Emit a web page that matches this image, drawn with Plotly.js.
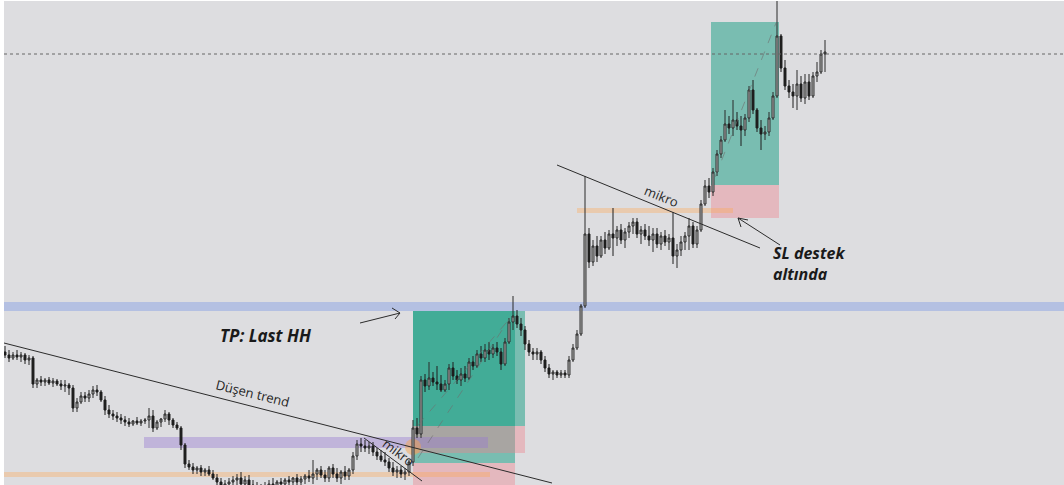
<!DOCTYPE html>
<html>
<head>
<meta charset="utf-8">
<script src="https://cdn.plot.ly/plotly-3.0.1.min.js"></script>
<style>html,body{margin:0;padding:0;background:#fff;}#chart{width:1064px;height:485px;}</style>
</head>
<body>
<div id="chart"></div>
<script>
// Candle OHLC values (price units)
const open = [148,145,142,145,143,145,140,142,116,120,118,120,117,119,116,114,115,112,92,98,
104,102,106,110,108,100,90,86,84,82,80,78,76,79,77,79,80,84,72,78,
81,86,80,75,72,55,36,33,30,32,28,30,26,22,18,14,16,18,20,22,
16,20,15,12,10,12,14,16,14,18,16,20,18,22,18,21,24,22,26,30,
25,22,32,26,22,28,24,30,44,56,54,52,54,48,44,40,38,32,28,30,
26,28,38,72,66,120,114,122,118,116,110,116,132,124,120,126,122,138,134,146,
142,150,146,152,148,136,158,178,184,176,170,156,148,146,148,140,132,126,128,125,
127,125,140,152,166,194,266,238,254,244,260,252,266,262,270,260,268,274,278,266,
270,264,260,266,256,264,258,262,244,250,258,264,274,256,270,296,314,308,328,346,
360,376,372,380,374,370,382,410,390,372,366,368,382,404,464,432,414,408,404,416,
402,418,404,424,428,446];
const high = [154,150,148,150,148,147,145,144,122,124,122,123,122,121,120,120,117,115,102,108,
108,110,114,115,110,104,95,90,88,86,84,82,80,83,81,82,92,90,80,82,
90,88,82,78,74,57,40,37,34,35,32,34,30,26,22,20,22,24,26,28,
24,25,20,18,16,18,20,22,20,22,22,24,23,26,24,26,30,40,32,34,
30,34,36,32,30,34,32,48,60,62,60,58,58,52,50,48,42,38,34,34,
32,40,80,82,124,126,138,128,134,125,120,136,138,130,132,134,142,144,150,154,
156,158,156,158,152,162,182,204,190,182,174,160,152,152,150,144,136,130,130,130,
130,144,156,170,196,324,272,260,264,264,268,270,292,274,276,272,278,282,282,274,
276,274,272,272,268,270,266,288,256,264,268,282,278,274,300,320,322,332,350,364,
390,384,400,388,384,386,414,420,392,380,374,388,408,500,466,440,420,416,430,424,
426,426,428,438,450,460];
const low = [142,138,140,140,138,136,135,112,112,114,114,115,113,114,110,108,105,88,88,96,
98,98,102,104,98,85,82,80,78,76,74,73,74,75,74,76,72,68,70,73,
78,75,72,70,50,32,30,26,26,24,24,24,20,14,10,8,10,12,14,12,
10,12,8,6,4,6,8,10,8,12,10,14,12,14,12,16,18,16,20,22,
18,18,22,18,16,20,20,26,40,48,48,46,44,40,38,34,28,24,22,22,
20,24,34,62,62,108,110,114,110,108,108,110,120,116,114,118,120,130,132,138,
138,140,142,144,130,134,156,170,172,164,150,144,140,140,136,128,122,120,122,122,
122,122,138,150,164,192,232,234,238,242,246,250,244,254,256,252,262,266,262,256,
260,254,248,252,250,254,250,236,232,244,250,250,252,252,268,294,302,304,324,342,
358,366,364,370,354,364,378,386,368,350,360,364,380,402,428,410,402,392,390,398,
396,400,402,418,426,428];
const close = [145,142,145,143,145,140,142,116,120,118,120,117,119,116,114,115,112,92,98,104,
102,106,110,108,100,90,86,84,82,80,78,76,79,77,79,80,84,72,78,81,
86,80,75,72,55,36,33,30,32,28,30,26,22,18,14,16,18,20,22,16,
20,15,12,10,12,14,16,14,18,16,20,18,22,18,21,24,22,26,30,25,
22,32,26,22,28,24,30,44,56,54,52,54,48,44,40,38,32,28,30,26,
28,38,72,66,120,114,122,118,116,110,116,132,124,120,126,122,138,134,146,142,
150,146,152,148,136,158,178,184,176,170,156,148,146,148,140,132,126,128,125,127,
125,140,152,166,194,266,238,254,244,260,252,266,262,270,260,268,274,278,266,270,
264,260,266,256,264,258,262,244,250,258,264,274,256,270,296,314,308,328,346,360,
376,372,380,374,370,382,410,390,372,366,368,382,404,464,432,414,408,404,416,402,
418,404,424,428,446,448];
const bars = open.map((_, k) => k);

// Drawing-tool levels (price units)
const tpLevel = 189, lastHHTop = 198;
const dottedLevel = 446;

const trace = {
  type: 'candlestick', x: bars, open: open, high: high, low: low, close: close,
  increasing: {line: {color: '#2a2a2a', width: 1}, fillcolor: '#c4c4c4'},
  decreasing: {line: {color: '#1e1e1e', width: 1}, fillcolor: '#1e1e1e'},
  whiskerwidth: 0, hoverinfo: 'skip', showlegend: false
};

const green = 'rgba(0,150,120,0.45)';
const pink = 'rgba(240,130,140,0.4)';
const nol = {width: 0};
const shapes = [
  {type:'rect', xref:'paper', x0:0, x1:1, yref:'y', y0:tpLevel, y1:lastHHTop, fillcolor:'rgba(120,150,230,0.4)', line:nol, layer:'below'},
  {type:'rect', x0:102, x1:127.5, y0:37, y1:tpLevel, fillcolor:green, line:nol, layer:'below'},
  {type:'rect', x0:102, x1:127.5, y0:0, y1:37, fillcolor:pink, line:nol, layer:'below'},
  {type:'rect', x0:102, x1:130, y0:74, y1:tpLevel, fillcolor:green, line:nol, layer:'below'},
  {type:'rect', x0:102, x1:130, y0:47, y1:74, fillcolor:pink, line:nol, layer:'below'},
  {type:'rect', x0:176.5, x1:193.5, y0:315, y1:478, fillcolor:green, line:nol, layer:'below'},
  {type:'rect', x0:176.5, x1:193.5, y0:282, y1:315, fillcolor:pink, line:nol, layer:'below'},
  {type:'rect', x0:34.75, x1:120.75, y0:52, y1:63, fillcolor:'rgba(150,120,210,0.4)', line:nol, layer:'below'},
  {type:'rect', x0:-1, x1:121.25, y0:23, y1:28, fillcolor:'rgba(255,165,80,0.35)', line:nol, layer:'below'},
  {type:'rect', x0:143, x1:182, y0:287, y1:292, fillcolor:'rgba(255,165,80,0.35)', line:nol, layer:'below'},
  {type:'circle', x0:100, x1:104, y0:45, y1:61, fillcolor:'rgba(245,165,80,0.5)', line:nol, layer:'below'},
  {type:'line', xref:'paper', x0:0, x1:1, y0:dottedLevel, y1:dottedLevel, line:{color:'#666', width:1, dash:'dot'}},
  {type:'line', x0:103.25, y0:75, x1:126.75, y1:184, line:{color:'rgba(110,110,110,0.6)', width:1, dash:'dash'}},
  {type:'line', x0:103.25, y0:42, x1:126.25, y1:182, line:{color:'rgba(110,110,110,0.6)', width:1, dash:'dash'}},
  {type:'line', x0:177.5, y0:323, x1:192.75, y1:477, line:{color:'rgba(110,110,110,0.6)', width:1, dash:'dash'}},
  {type:'line', x0:-0.25, y0:157, x1:136.75, y1:17, line:{color:'#2b2b2b', width:1}},
  {type:'line', x0:89.75, y0:62, x1:104.25, y1:19, line:{color:'#2b2b2b', width:1}},
  {type:'line', x0:138, y0:335, x1:188.75, y1:252, line:{color:'#2b2b2b', width:1}},
  {type:'line', x0:88.75, y0:177, x1:98.75, y1:187, line:{color:'#2b2b2b', width:1}},
  {type:'line', x0:96.75, y0:192, x1:98.75, y1:187, line:{color:'#2b2b2b', width:1}},
  {type:'line', x0:97.5, y0:181, x1:98.75, y1:187, line:{color:'#2b2b2b', width:1}},
  {type:'line', x0:193.75, y0:255, x1:183.25, y1:282, line:{color:'#2b2b2b', width:1}},
  {type:'line', x0:184, y0:273, x1:183.25, y1:282, line:{color:'#2b2b2b', width:1}},
  {type:'line', x0:185.75, y0:280, x1:183.25, y1:282, line:{color:'#2b2b2b', width:1}}
];

const fam = '"Open Sans", "Noto Sans", sans-serif';
const annotations = [
  {x:65, y:165, text:'<b><i>TP: Last HH</i></b>', showarrow:false, font:{family:fam, size:17, color:'#1a1a1a'}},
  {x:61.75, y:107, text:'Düşen trend', textangle:14, showarrow:false, font:{family:fam, size:13, color:'#262626'}},
  {x:164, y:304, text:'mikro', textangle:22, showarrow:false, font:{family:fam, size:13, color:'#262626'}},
  {x:98.25, y:48, text:'mikro', textangle:37, showarrow:false, font:{family:fam, size:13, color:'#262626'}},
  {x:191.5, y:237, xanchor:'left', align:'left', text:'<b><i>SL destek<br>altında</i></b>', showarrow:false, font:{family:fam, size:16, color:'#1a1a1a'}}
];

const layout = {
  width: 1064, height: 485,
  margin: {l:4, r:0, t:1, b:0, pad:0},
  paper_bgcolor: '#ffffff', plot_bgcolor: '#dddde0',
  showlegend: false,
  xaxis: {range:[-0.25, 264.75], showgrid:false, zeroline:false, showticklabels:false, ticks:'', showline:false, rangeslider:{visible:false}, fixedrange:true},
  yaxis: {range:[15, 499], showgrid:false, zeroline:false, showticklabels:false, ticks:'', showline:false, fixedrange:true},
  shapes: shapes,
  annotations: annotations
};

Plotly.newPlot('chart', [trace], layout, {displayModeBar:false, staticPlot:true});
</script>
</body>
</html>
